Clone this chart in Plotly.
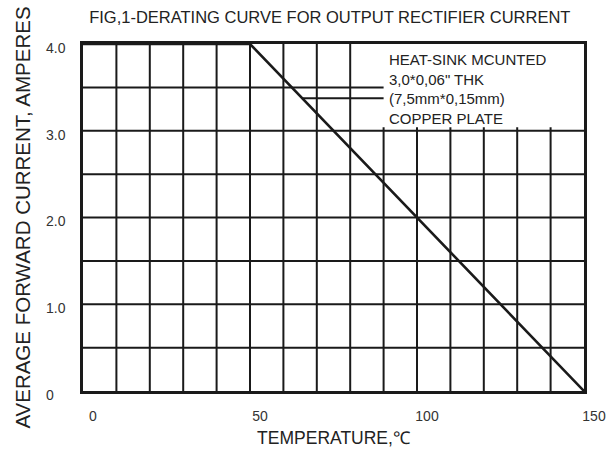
import plotly.graph_objects as go

# ---- data ----
temperature = [0, 50, 150]          # degC
current = [4.0, 4.0, 0.0]           # A
x_grid = [10, 20, 30, 40, 50, 60, 70, 80, 90, 100, 110, 120, 130, 140]
y_grid = [0.5, 1.0, 1.5, 2.0, 2.5, 3.0, 3.5]
x_tick_vals = [0, 50, 100, 150]
x_tick_text = ["0", "50", "100", "150"]
y_tick_vals = [0, 1, 2, 3, 4]
y_tick_text = ["0\u2008\u2007", "1.0", "2.0", "3.0", "4.0"]
note_lines = ["HEAT-SINK MCUNTED", "3,0*0,06\" THK", "(7,5mm*0,15mm)", "COPPER PLATE"]
box_x = [80, 150]      # note box extent (temperature)
box_y = [3.0, 4.0]     # note box extent (current)
leader_y = 3.376        # leader line level pointing to the curve
leader_end_x = 90

INK = "#1a1a1a"
FONT = "Liberation Sans, Arial, sans-serif"

# grid lines built from the grid arrays
gx, gy = [], []
for x in x_grid:
    top = 4.0 if x <= box_x[0] else box_y[0] + 0.04
    gx += [x, x, None]
    gy += [0, top, None]
for y in y_grid:
    right = 150 if y <= box_y[0] else leader_end_x
    gx += [0, right, None]
    gy += [y, y, None]

# leader line from the curve to the note
slope = (current[2] - current[1]) / (temperature[2] - temperature[1])
leader_start_x = temperature[1] + (leader_y - current[1]) / slope
gx += [leader_start_x, leader_end_x, None]
gy += [leader_y, leader_y, None]

fig = go.Figure()
fig.add_trace(go.Scatter(x=gx, y=gy, mode="lines", line=dict(color=INK, width=2),
                         hoverinfo="skip", showlegend=False))
fig.add_trace(go.Scatter(x=temperature, y=current, mode="lines",
                         line=dict(color=INK, width=2.6), showlegend=False))

fig.add_annotation(x=box_x[0], y=box_y[1], xref="x", yref="y",
                   text="<br>".join(note_lines), showarrow=False,
                   xanchor="left", yanchor="top", align="left",
                   xshift=37, yshift=-5,
                   font=dict(family=FONT, size=15, color="#222"))

fig.update_layout(
    width=613, height=452,
    margin=dict(l=82.5, r=29, t=44, b=61, autoexpand=False),
    paper_bgcolor="white", plot_bgcolor="white",
    title=dict(text="FIG,1-DERATING CURVE FOR OUTPUT RECTIFIER CURRENT",
               x=0.538, xanchor="center", y=0.962, yanchor="middle",
               font=dict(family=FONT, size=16.5, color="#222")),
    font=dict(family=FONT, color="#222"),
)
fig.update_xaxes(range=[0, 150], showgrid=False, zeroline=False, automargin=False,
                 showline=True, linecolor=INK, linewidth=2.5, mirror=True,
                 tickvals=x_tick_vals, ticktext=x_tick_text, ticks="",
                 ticklabelstandoff=10, ticklabelshift=10,
                 tickfont=dict(family=FONT, size=14, color="#333"),
                 title=dict(text="TEMPERATURE,\u2103", standoff=10,
                            font=dict(family=FONT, size=17.5, color="#222")))
fig.update_yaxes(range=[0, 4], showgrid=False, zeroline=False, automargin=False,
                 showline=True, linecolor=INK, linewidth=2.5, mirror=True,
                 tickvals=y_tick_vals, ticktext=y_tick_text, ticks="",
                 ticklabelstandoff=12, ticklabelshift=4,
                 tickfont=dict(family=FONT, size=14, color="#333"),
                 title=dict(text="AVERAGE FORWARD CURRENT, AMPERES", standoff=10,
                            font=dict(family=FONT, size=20.5, color="#222")))

fig.write_html("out.html", config={"displayModeBar": False},
               post_script="document.body.style.margin='0';document.body.style.overflow='hidden';")
